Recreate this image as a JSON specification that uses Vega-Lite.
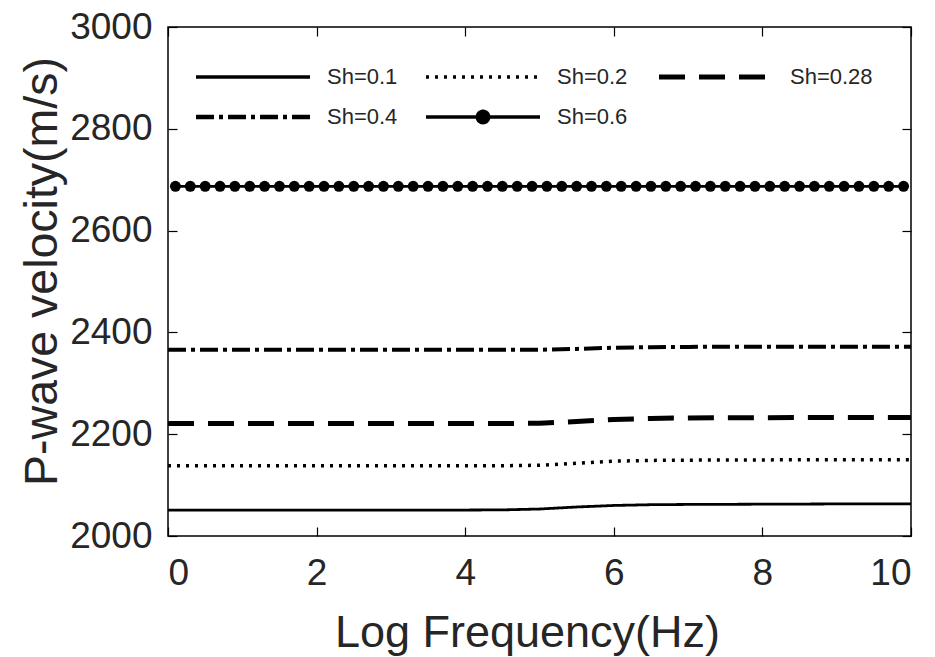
{
  "$schema": "https://vega.github.io/schema/vega-lite/v6.json",
  "width": 743,
  "height": 509,
  "autosize": {"type": "none"},
  "padding": {"left": 168, "top": 27, "right": 24, "bottom": 121},
  "background": "white",
  "config": {
    "view": {"stroke": "black", "strokeWidth": 1.5},
    "axis": {
      "grid": false,
      "domain": false,
      "tickColor": "black",
      "tickWidth": 1.2,
      "tickSize": -9,
      "labelFont": "Liberation Sans",
      "labelFontSize": 37,
      "labelColor": "#262626",
      "titleFont": "Liberation Sans",
      "titleFontSize": 45,
      "titleFontWeight": "normal",
      "titleColor": "#262626"
    },
    "legend": {
      "orient": "none",
      "direction": "horizontal",
      "legendX": 36,
      "legendY": 39,
      "columns": 3,
      "padding": 0,
      "symbolType": "M-1,0H5",
      "symbolSize": 1444,
      "symbolStrokeColor": "black",
      "symbolStrokeWidth": 4,
      "labelFont": "Liberation Sans",
      "labelFontSize": 22,
      "labelColor": "#262626",
      "labelOffset": 101,
      "columnPadding": 21,
      "rowPadding": 16
    }
  },
  "data": {
    "values": [
      {"x": 0, "v": 2051, "s": "Sh=0.1"},
      {"x": 1, "v": 2051, "s": "Sh=0.1"},
      {"x": 2, "v": 2051, "s": "Sh=0.1"},
      {"x": 3, "v": 2051, "s": "Sh=0.1"},
      {"x": 4, "v": 2051, "s": "Sh=0.1"},
      {"x": 4.5, "v": 2051.3, "s": "Sh=0.1"},
      {"x": 5, "v": 2053, "s": "Sh=0.1"},
      {"x": 5.5, "v": 2057, "s": "Sh=0.1"},
      {"x": 6, "v": 2060, "s": "Sh=0.1"},
      {"x": 6.5, "v": 2061.5, "s": "Sh=0.1"},
      {"x": 7, "v": 2062, "s": "Sh=0.1"},
      {"x": 8, "v": 2062.5, "s": "Sh=0.1"},
      {"x": 9, "v": 2063, "s": "Sh=0.1"},
      {"x": 10, "v": 2063, "s": "Sh=0.1"},
      {"x": 0, "v": 2138, "s": "Sh=0.2"},
      {"x": 1, "v": 2138, "s": "Sh=0.2"},
      {"x": 2, "v": 2138, "s": "Sh=0.2"},
      {"x": 3, "v": 2138, "s": "Sh=0.2"},
      {"x": 4, "v": 2138, "s": "Sh=0.2"},
      {"x": 4.5, "v": 2138, "s": "Sh=0.2"},
      {"x": 5, "v": 2139, "s": "Sh=0.2"},
      {"x": 5.5, "v": 2143, "s": "Sh=0.2"},
      {"x": 6, "v": 2147, "s": "Sh=0.2"},
      {"x": 6.5, "v": 2148.5, "s": "Sh=0.2"},
      {"x": 7, "v": 2149, "s": "Sh=0.2"},
      {"x": 8, "v": 2149.5, "s": "Sh=0.2"},
      {"x": 9, "v": 2150, "s": "Sh=0.2"},
      {"x": 10, "v": 2150, "s": "Sh=0.2"},
      {"x": 0, "v": 2221, "s": "Sh=0.28"},
      {"x": 1, "v": 2221, "s": "Sh=0.28"},
      {"x": 2, "v": 2221, "s": "Sh=0.28"},
      {"x": 3, "v": 2221, "s": "Sh=0.28"},
      {"x": 4, "v": 2221, "s": "Sh=0.28"},
      {"x": 4.5, "v": 2221, "s": "Sh=0.28"},
      {"x": 5, "v": 2221.5, "s": "Sh=0.28"},
      {"x": 5.5, "v": 2225, "s": "Sh=0.28"},
      {"x": 6, "v": 2229, "s": "Sh=0.28"},
      {"x": 6.5, "v": 2231, "s": "Sh=0.28"},
      {"x": 7, "v": 2232, "s": "Sh=0.28"},
      {"x": 8, "v": 2232.5, "s": "Sh=0.28"},
      {"x": 9, "v": 2233, "s": "Sh=0.28"},
      {"x": 10, "v": 2233, "s": "Sh=0.28"},
      {"x": 0, "v": 2366, "s": "Sh=0.4"},
      {"x": 1, "v": 2366, "s": "Sh=0.4"},
      {"x": 2, "v": 2366, "s": "Sh=0.4"},
      {"x": 3, "v": 2366, "s": "Sh=0.4"},
      {"x": 4, "v": 2366, "s": "Sh=0.4"},
      {"x": 4.5, "v": 2366, "s": "Sh=0.4"},
      {"x": 5, "v": 2366, "s": "Sh=0.4"},
      {"x": 5.5, "v": 2367.5, "s": "Sh=0.4"},
      {"x": 6, "v": 2370, "s": "Sh=0.4"},
      {"x": 6.5, "v": 2371, "s": "Sh=0.4"},
      {"x": 7, "v": 2371.5, "s": "Sh=0.4"},
      {"x": 8, "v": 2372, "s": "Sh=0.4"},
      {"x": 9, "v": 2372, "s": "Sh=0.4"},
      {"x": 10, "v": 2372, "s": "Sh=0.4"},
      {"x": 0.1, "v": 2687, "s": "Sh=0.6"},
      {"x": 0.3, "v": 2687, "s": "Sh=0.6"},
      {"x": 0.5, "v": 2687, "s": "Sh=0.6"},
      {"x": 0.7, "v": 2687, "s": "Sh=0.6"},
      {"x": 0.9, "v": 2687, "s": "Sh=0.6"},
      {"x": 1.1, "v": 2687, "s": "Sh=0.6"},
      {"x": 1.3, "v": 2687, "s": "Sh=0.6"},
      {"x": 1.5, "v": 2687, "s": "Sh=0.6"},
      {"x": 1.7, "v": 2687, "s": "Sh=0.6"},
      {"x": 1.9, "v": 2687, "s": "Sh=0.6"},
      {"x": 2.1, "v": 2687, "s": "Sh=0.6"},
      {"x": 2.3, "v": 2687, "s": "Sh=0.6"},
      {"x": 2.5, "v": 2687, "s": "Sh=0.6"},
      {"x": 2.7, "v": 2687, "s": "Sh=0.6"},
      {"x": 2.9, "v": 2687, "s": "Sh=0.6"},
      {"x": 3.1, "v": 2687, "s": "Sh=0.6"},
      {"x": 3.3, "v": 2687, "s": "Sh=0.6"},
      {"x": 3.5, "v": 2687, "s": "Sh=0.6"},
      {"x": 3.7, "v": 2687, "s": "Sh=0.6"},
      {"x": 3.9, "v": 2687, "s": "Sh=0.6"},
      {"x": 4.1, "v": 2687, "s": "Sh=0.6"},
      {"x": 4.3, "v": 2687, "s": "Sh=0.6"},
      {"x": 4.5, "v": 2687, "s": "Sh=0.6"},
      {"x": 4.7, "v": 2687, "s": "Sh=0.6"},
      {"x": 4.9, "v": 2687, "s": "Sh=0.6"},
      {"x": 5.1, "v": 2687, "s": "Sh=0.6"},
      {"x": 5.3, "v": 2687, "s": "Sh=0.6"},
      {"x": 5.5, "v": 2687, "s": "Sh=0.6"},
      {"x": 5.7, "v": 2687, "s": "Sh=0.6"},
      {"x": 5.9, "v": 2687, "s": "Sh=0.6"},
      {"x": 6.1, "v": 2687, "s": "Sh=0.6"},
      {"x": 6.3, "v": 2687, "s": "Sh=0.6"},
      {"x": 6.5, "v": 2687, "s": "Sh=0.6"},
      {"x": 6.7, "v": 2687, "s": "Sh=0.6"},
      {"x": 6.9, "v": 2687, "s": "Sh=0.6"},
      {"x": 7.1, "v": 2687, "s": "Sh=0.6"},
      {"x": 7.3, "v": 2687, "s": "Sh=0.6"},
      {"x": 7.5, "v": 2687, "s": "Sh=0.6"},
      {"x": 7.7, "v": 2687, "s": "Sh=0.6"},
      {"x": 7.9, "v": 2687, "s": "Sh=0.6"},
      {"x": 8.1, "v": 2687, "s": "Sh=0.6"},
      {"x": 8.3, "v": 2687, "s": "Sh=0.6"},
      {"x": 8.5, "v": 2687, "s": "Sh=0.6"},
      {"x": 8.7, "v": 2687, "s": "Sh=0.6"},
      {"x": 8.9, "v": 2687, "s": "Sh=0.6"},
      {"x": 9.1, "v": 2687, "s": "Sh=0.6"},
      {"x": 9.3, "v": 2687, "s": "Sh=0.6"},
      {"x": 9.5, "v": 2687, "s": "Sh=0.6"},
      {"x": 9.7, "v": 2687, "s": "Sh=0.6"},
      {"x": 9.9, "v": 2687, "s": "Sh=0.6"}
    ]
  },
  "layer": [
    {
      "mark": {"type": "line", "color": "black", "strokeCap": "butt"},
      "encoding": {
        "x": {"field": "x", "type": "quantitative", "scale": {"domain": [0, 10], "nice": false},
              "axis": {"orient": "bottom", "values": [0, 2, 4, 6, 8, 10], "format": "d", "title": "Log Frequency(Hz)", "labelPadding": 28, "titlePadding": 19, "titleX": 359}},
        "y": {"field": "v", "type": "quantitative", "scale": {"domain": [2000, 3000], "nice": false, "zero": false},
              "axis": {"orient": "left", "values": [2000, 2200, 2400, 2600, 2800, 3000], "format": "d", "title": "P-wave velocity(m/s)", "titleFontSize": 46.5, "labelPadding": 25, "titlePadding": 3, "titleY": 244}},
        "detail": {"field": "s"},
        "strokeDash": {"field": "s", "type": "nominal",
          "scale": {"domain": ["Sh=0.1", "Sh=0.2", "Sh=0.28", "Sh=0.4", "Sh=0.6"], "range": [[1, 0], [3, 6], [26, 14], [18, 5, 4, 5], [1, 0]]},
          "legend": {"title": null,
            "encode": {"symbols": {"update": {
              "shape": {"signal": "datum.value === 'Sh=0.6' ? 'M-1,0H5M2.3,0A0.3,0.3,0,1,1,1.7,0A0.3,0.3,0,1,1,2.3,0Z' : 'M-1,0H5'"},
              "fill": {"signal": "datum.value === 'Sh=0.6' ? 'black' : 'transparent'"},
              "stroke": {"value": "black"},
              "strokeWidth": {"signal": "datum.value === 'Sh=0.28' ? 5 : datum.value === 'Sh=0.4' ? 4.5 : 3.5"},
              "opacity": {"value": 1},
              "strokeOpacity": {"value": 1}
            }}}}},
        "strokeWidth": {
          "condition": [
            {"test": "datum.s === 'Sh=0.28'", "value": 5},
            {"test": "datum.s === 'Sh=0.4'", "value": 4},
            {"test": "datum.s === 'Sh=0.2'", "value": 3.5}
          ],
          "value": 2.8
        }
      }
    },
    {
      "transform": [{"filter": "datum.s === 'Sh=0.6'"}],
      "mark": {"type": "point", "filled": true, "color": "black", "opacity": 1, "size": 120, "shape": "circle"},
      "encoding": {
        "x": {"field": "x", "type": "quantitative",
              "axis": {"orient": "top", "values": [0, 2, 4, 6, 8, 10], "labels": false, "title": null}},
        "y": {"field": "v", "type": "quantitative",
              "axis": {"orient": "right", "values": [2000, 2200, 2400, 2600, 2800, 3000], "labels": false, "title": null}}
      }
    }
  ],
  "resolve": {"axis": {"x": "independent", "y": "independent"}}
}
